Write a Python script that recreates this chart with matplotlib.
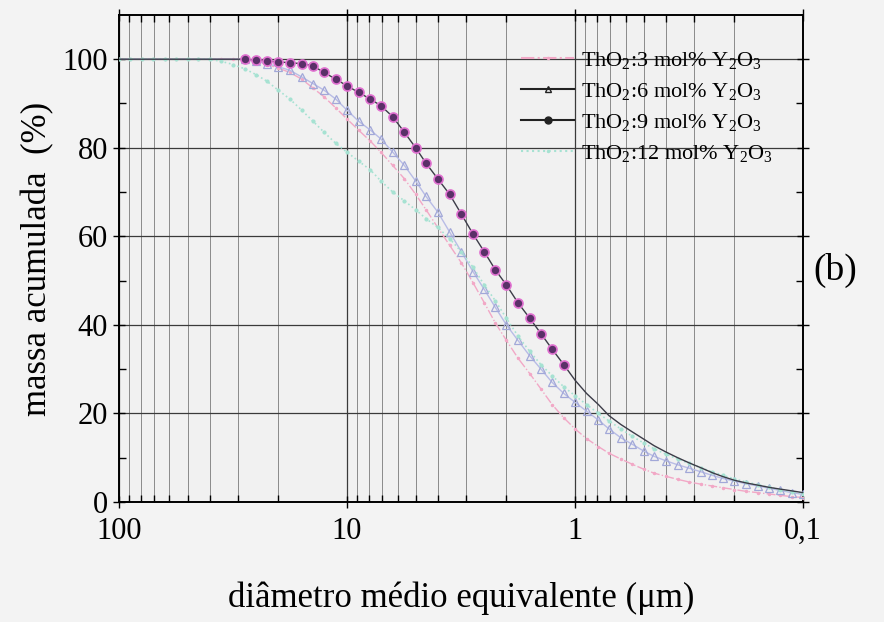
import numpy as np
import matplotlib.pyplot as plt
from matplotlib.lines import Line2D

plt.rcParams['font.family'] = ['Liberation Serif', 'DejaVu Serif']
plt.rcParams['mathtext.fontset'] = 'custom'
plt.rcParams['mathtext.rm'] = 'Liberation Serif'
plt.rcParams['mathtext.it'] = 'Liberation Serif:italic'

# diametro (um)
diametro = [100, 89, 79, 71, 63, 56, 50, 45, 40, 35.5, 31.5, 28, 25, 22.4, 20,
            17.8, 15.8, 14.1, 12.6, 11.2, 10, 8.9, 7.9, 7.1, 6.3, 5.6, 5.0, 4.5,
            4.0, 3.55, 3.15, 2.8, 2.5, 2.24, 2.0, 1.78, 1.58, 1.41, 1.26, 1.12,
            1.0, 0.89, 0.79, 0.71, 0.63, 0.56, 0.5, 0.45, 0.4, 0.355, 0.315,
            0.28, 0.25, 0.224, 0.2, 0.178, 0.158, 0.141, 0.126, 0.112, 0.1]

# massa acumulada (%)
y3 = [100, 100, 100, 100, 100, 100, 100, 100, 100, 100, 100, 100, 99.5, 98.8, 98,
      97, 95.5, 93.5, 91.5, 89, 86.5, 84, 81.5, 79, 76, 73, 69.5, 66,
      62, 58, 54, 49.5, 45, 40.5, 36.5, 32.5, 29, 25.5, 22, 19,
      16.5, 14.3, 12.5, 11, 9.7, 8.5, 7.4, 6.5, 5.8, 5.1, 4.5,
      4.0, 3.6, 3.2, 2.8, 2.4, 2.1, 1.8, 1.5, 1.2, 1.0]
y6 = [100, 100, 100, 100, 100, 100, 100, 100, 100, 100, 100, 100, 99.5, 99, 98.3,
      97.5, 96, 94.5, 93, 91, 88.5, 86, 84, 82, 79, 76, 72.5, 69,
      65.5, 61, 56.5, 52, 48, 44, 40, 36.5, 33, 30, 27, 24.5,
      22.5, 20.5, 18.5, 16.5, 14.5, 13, 11.5, 10.3, 9.3, 8.4, 7.6,
      6.8, 6.0, 5.3, 4.7, 4.1, 3.6, 3.1, 2.6, 2.1, 1.7]
y9 = [100, 100, 100, 100, 100, 100, 100, 100, 100, 100, 100, 100, 99.8, 99.6, 99.4,
      99.2, 99, 98.5, 97, 95.5, 94, 92.5, 91, 89.5, 87, 83.5, 80, 76.5,
      73, 69.5, 65, 60.5, 56.5, 52.5, 49, 45, 41.5, 38, 34.5, 31,
      27.5, 24.5, 22, 19.5, 17.5, 15.8, 14.2, 12.7, 11.3, 10, 8.8,
      7.7, 6.6, 5.7, 4.9, 4.3, 3.8, 3.3, 2.9, 2.5, 2.1]
y12 = [100, 100, 100, 100, 100, 100, 100, 100, 100, 99.5, 98.8, 97.8, 96.5, 95, 93,
       91, 88.5, 86, 83.5, 81, 79, 77, 75, 72.5, 70, 68, 66, 64,
       62, 59.5, 56.5, 53, 49, 45.5, 41.5, 37.5, 34, 31, 28.5, 26,
       24, 22, 20, 18.3, 16.5, 14.8, 13.3, 12, 10.8, 9.7, 8.7,
       7.7, 6.8, 6.0, 5.2, 4.5, 3.9, 3.3, 2.8, 2.3, 1.9]

rotulos = ['ThO$_2$:3 mol% Y$_2$O$_3$', 'ThO$_2$:6 mol% Y$_2$O$_3$',
           'ThO$_2$:9 mol% Y$_2$O$_3$', 'ThO$_2$:12 mol% Y$_2$O$_3$']

fig = plt.figure(figsize=(8.84, 6.22), dpi=100, facecolor='#f3f3f3')
ax = fig.add_axes([0.1345, 0.193, 0.774, 0.783], facecolor='#f1f1f1')

x = np.array(diametro)
com_bola = (x > 1.05) & (x < 30)
com_tri = x < 30

ax.plot(x, y3, color='#f2a8c6', ls='-.', lw=1.0, marker='.', ms=3, zorder=3)
ax.plot(x, y6, color='#b8bce6', ls='-', lw=1.0, marker='^', ms=5.5,
        markevery=list(np.where(com_tri)[0]),
        mfc='none', mec='#a2a8d8', mew=0.9, zorder=3)
ax.plot(x, y12, color='#a6e2d2', ls=':', lw=1.2, marker='.', ms=4, zorder=4)
ax.plot(x, y9, color='#3c3c48', ls='-', lw=1.0, zorder=5)
ax.plot(x[com_bola], np.array(y9)[com_bola], ls='none', marker='o', ms=6.5,
        mfc='#5a3068', mec='#e070d0', mew=1.2, zorder=6)

ax.set_xscale('log')
ax.set_xlim(100, 0.1)
ax.set_ylim(0, 110)
ax.set_xticks([100, 10, 1, 0.1])
ax.set_xticklabels(['100', '10', '1', '0,1'])
ax.set_yticks([0, 20, 40, 60, 80, 100])
ax.set_yticks([10, 30, 50, 70, 90], minor=True)

ax.grid(True, which='major', color='#3a3a3a', lw=0.9)
ax.grid(True, which='minor', axis='x', color='#7a7a7a', lw=0.6)

ax.tick_params(which='both', top=True, right=True, labelsize=22, width=1.0)
ax.tick_params(which='major', direction='inout', length=9)
ax.tick_params(which='minor', direction='in', length=5)
ax.tick_params(axis='x', which='major', pad=6)
for s in ax.spines.values():
    s.set_linewidth(1.4)

ax.set_xlabel('diâmetro médio equivalente (μm)', fontsize=25, labelpad=26)
ax.set_ylabel('massa acumulada  (%)', fontsize=25, labelpad=6)

handles = [
    Line2D([], [], color='#f2a8c6', ls='-.', marker='.', ms=3),
    Line2D([], [], color='#222222', ls='-', marker='^', ms=5, mfc='none', mec='#222222'),
    Line2D([], [], color='#222222', ls='-', marker='o', ms=5, mfc='#222222'),
    Line2D([], [], color='#a6e2d2', ls=':', marker='.', ms=3),
]
leg = ax.legend(handles, rotulos, loc='upper right', bbox_to_anchor=(0.985, 0.97),
                fontsize=16, frameon=False, handlelength=2.4, handletextpad=0.3,
                labelspacing=0.45)

fig.text(0.945, 0.566, '(b)', fontsize=27, ha='center', va='center')

fig.savefig('out.png', dpi=100, facecolor=fig.get_facecolor())
